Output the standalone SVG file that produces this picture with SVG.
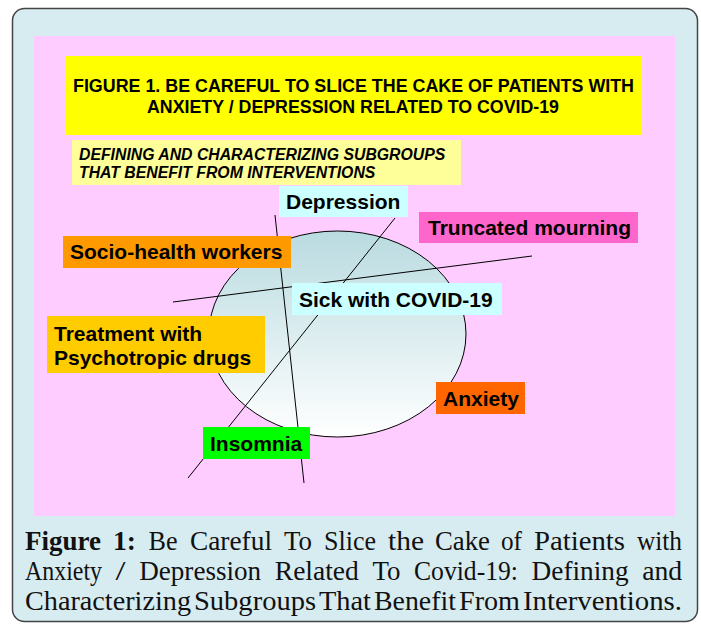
<svg xmlns="http://www.w3.org/2000/svg" width="701" height="624" viewBox="0 0 701 624">
<defs>
<linearGradient id="cake" x1="0" y1="0" x2="0" y2="1">
<stop offset="0" stop-color="#b9dbe0"/>
<stop offset="1" stop-color="#ffffff"/>
</linearGradient>
<style>
.lbl{font-family:"Liberation Sans",Arial,sans-serif;font-weight:bold;font-size:21px;fill:#000}
.ttl{font-family:"Liberation Sans",Arial,sans-serif;font-weight:bold;font-size:17.75px;fill:#000}
.sub{font-family:"Liberation Sans",Arial,sans-serif;font-weight:bold;font-style:italic;font-size:15.8px;fill:#000}
.cap{font-family:"Liberation Serif","Times New Roman",serif;font-size:27px;fill:#111}
.ln{stroke:#000;stroke-width:1;fill:none}
</style>
</defs>
<rect x="12.5" y="8.5" width="685" height="613" rx="12" fill="#d7ecf1" stroke="#444" stroke-width="1.5"/>
<rect x="34" y="36" width="641" height="480" fill="#ffccff"/>
<g id="title">
<rect x="66" y="56" width="576" height="79" fill="#ffff00"/>
<text class="ttl" x="73" y="92" textLength="561" lengthAdjust="spacingAndGlyphs">FIGURE 1. BE CAREFUL TO SLICE THE CAKE OF PATIENTS WITH</text>
<text class="ttl" x="147" y="113" textLength="412" lengthAdjust="spacingAndGlyphs">ANXIETY / DEPRESSION RELATED TO COVID-19</text>
</g>
<g id="subtitle">
<rect x="72" y="140" width="389" height="45" fill="#ffff99"/>
<text class="sub" x="79" y="160">DEFINING AND CHARACTERIZING SUBGROUPS</text>
<text class="sub" x="79" y="178">THAT BENEFIT FROM INTERVENTIONS</text>
</g>
<g id="cake-node">
<ellipse cx="337.5" cy="334" rx="128.5" ry="103" fill="url(#cake)" stroke="#000" stroke-width="1"/>
</g>
<g id="connectors">
<line class="ln" x1="275" y1="215" x2="304" y2="483"/>
<line class="ln" x1="395" y1="218" x2="188" y2="478"/>
<line class="ln" x1="173" y1="302" x2="532" y2="256"/>
</g>
<g id="depression">
<rect x="279" y="186" width="129" height="31" fill="#ccffff"/>
<text class="lbl" x="286" y="209">Depression</text>
</g>
<g id="truncated-mourning">
<rect x="419" y="212" width="219" height="31" fill="#ff66cc"/>
<text class="lbl" x="428" y="235">Truncated mourning</text>
</g>
<g id="socio-health-workers">
<rect x="63" y="236" width="228" height="32" fill="#ff9900"/>
<text class="lbl" x="70" y="259">Socio-health workers</text>
</g>
<g id="sick-with-covid">
<rect x="292" y="283" width="210" height="32" fill="#ccffff"/>
<text class="lbl" x="299" y="307">Sick with COVID-19</text>
</g>
<g id="treatment">
<rect x="47" y="316" width="218" height="57" fill="#ffcc00"/>
<text class="lbl" x="54" y="341">Treatment with</text>
<text class="lbl" x="54" y="365">Psychotropic drugs</text>
</g>
<g id="anxiety">
<rect x="436" y="382" width="89" height="32" fill="#ff6600"/>
<text class="lbl" x="443" y="406">Anxiety</text>
</g>
<g id="insomnia">
<rect x="203" y="427" width="107" height="32" fill="#00ff00"/>
<text class="lbl" x="210" y="451">Insomnia</text>
</g>
<g id="caption">
<text class="cap" y="550"><tspan x="25" textLength="76" lengthAdjust="spacingAndGlyphs" font-weight="bold">Figure</tspan> <tspan x="113" textLength="23" lengthAdjust="spacingAndGlyphs" font-weight="bold">1:</tspan> <tspan x="148.6" textLength="29" lengthAdjust="spacingAndGlyphs">Be</tspan> <tspan x="190" textLength="82" lengthAdjust="spacingAndGlyphs">Careful</tspan> <tspan x="284" textLength="28" lengthAdjust="spacingAndGlyphs">To</tspan> <tspan x="324" textLength="52" lengthAdjust="spacingAndGlyphs">Slice</tspan> <tspan x="388" textLength="36" lengthAdjust="spacingAndGlyphs">the</tspan> <tspan x="435" textLength="55" lengthAdjust="spacingAndGlyphs">Cake</tspan> <tspan x="501" textLength="21" lengthAdjust="spacingAndGlyphs">of</tspan> <tspan x="534" textLength="91" lengthAdjust="spacingAndGlyphs">Patients</tspan> <tspan x="637" textLength="45" lengthAdjust="spacingAndGlyphs">with</tspan></text>
<text class="cap" y="580"><tspan x="25" textLength="77" lengthAdjust="spacingAndGlyphs">Anxiety</tspan> <tspan x="115.6" textLength="10" lengthAdjust="spacingAndGlyphs">/</tspan> <tspan x="139.2" textLength="122" lengthAdjust="spacingAndGlyphs">Depression</tspan> <tspan x="274.8" textLength="84" lengthAdjust="spacingAndGlyphs">Related</tspan> <tspan x="372.4" textLength="28" lengthAdjust="spacingAndGlyphs">To</tspan> <tspan x="414" textLength="104" lengthAdjust="spacingAndGlyphs">Covid-19:</tspan> <tspan x="531.6" textLength="97" lengthAdjust="spacingAndGlyphs">Defining</tspan> <tspan x="642.2" textLength="40" lengthAdjust="spacingAndGlyphs">and</tspan></text>
<text class="cap" y="610"><tspan x="25" textLength="166" lengthAdjust="spacingAndGlyphs">Characterizing</tspan> <tspan x="194" textLength="122" lengthAdjust="spacingAndGlyphs">Subgroups</tspan> <tspan x="319" textLength="52" lengthAdjust="spacingAndGlyphs">That</tspan> <tspan x="374" textLength="82" lengthAdjust="spacingAndGlyphs">Benefit</tspan> <tspan x="459" textLength="61" lengthAdjust="spacingAndGlyphs">From</tspan> <tspan x="523" textLength="159" lengthAdjust="spacingAndGlyphs">Interventions.</tspan></text>
</g>
</svg>
